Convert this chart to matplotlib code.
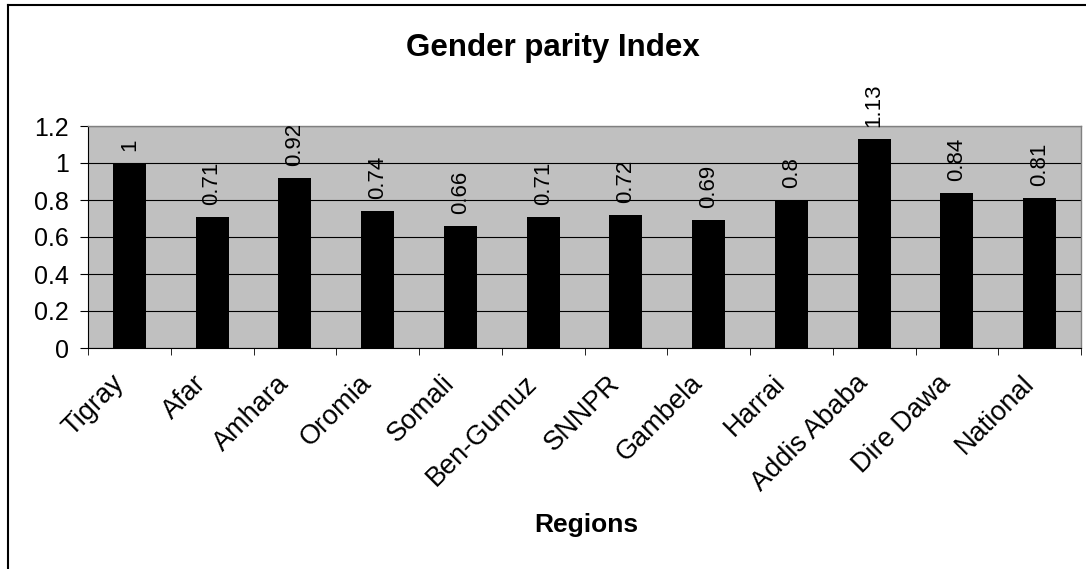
import matplotlib
matplotlib.use("Agg")
import matplotlib.pyplot as plt
from matplotlib.lines import Line2D
from matplotlib.transforms import ScaledTranslation
import numpy as np

regions = ["Tigray", "Afar", "Amhara", "Oromia", "Somali", "Ben-Gumuz", "SNNPR",
           "Gambela", "Harrai", "Addis Ababa", "Dire Dawa", "National"]
gpi = [1.0, 0.71, 0.92, 0.74, 0.66, 0.71, 0.72, 0.69, 0.80, 1.13, 0.84, 0.81]
labels = ["1", "0.71", "0.92", "0.74", "0.66", "0.71", "0.72", "0.69", "0.8", "1.13", "0.84", "0.81"]
yticks = [0, 0.2, 0.4, 0.6, 0.8, 1, 1.2]
yticklabels = ["0", "0.2", "0.4", "0.6", "0.8", "1", "1.2"]

plt.rcParams['font.family'] = ['Liberation Sans', 'DejaVu Sans']

W, H = 1086, 569
fig = plt.figure(figsize=(W/100, H/100), dpi=100)
ax = fig.add_axes([88/W, 1-348/H, (1081-88)/W, (348-126)/H])
ax.set_facecolor("#c0c0c0")

x = np.arange(len(regions))
ax.bar(x, gpi, width=0.4, color="black", zorder=3)
ax.set_xlim(-0.5, len(regions)-0.5)
ax.set_ylim(0, 1.2)
ax.set_yticks(yticks)
ax.set_yticklabels(yticklabels, fontsize=18)
ax.yaxis.grid(True, color="black", linewidth=0.8, zorder=1)
ax.set_axisbelow(True)

ax.set_xticks(x)
ax.set_xticklabels(regions, rotation=45, ha="right", va="top", rotation_mode="anchor", fontsize=19.5)
ax.tick_params(axis="x", length=0, pad=16)
shift = ScaledTranslation(-19/100, 0, fig.dpi_scale_trans)
for t in ax.get_xticklabels():
    t.set_transform(t.get_transform() + shift)
ax.set_xticks(np.arange(len(regions)+1)-0.5, minor=True)
ax.tick_params(axis="x", which="minor", length=5, direction="out", color="black")
ax.tick_params(axis="y", length=6, direction="out", color="black", pad=8)

for s in ["top", "right"]:
    ax.spines[s].set_color("#808080")
    ax.spines[s].set_linewidth(1.0)
ax.spines["left"].set_color("black")
ax.spines["bottom"].set_color("black")

for xi, v, lab in zip(x, gpi, labels):
    ax.text(xi, v + 0.065, lab, rotation=90, ha="center", va="bottom",
            fontsize=16, clip_on=False)

fig.text(553/W, 1-48/H, "Gender parity Index", ha="center", va="center",
         fontsize=22.5, fontweight="bold")
fig.text(586/W, 1-525/H, "Regions", ha="center", va="center",
         fontsize=19, fontweight="bold")

fig.add_artist(Line2D([8/W, 8/W], [0, 1-5/H], transform=fig.transFigure, color="black", linewidth=1.5))
fig.add_artist(Line2D([8/W, 1], [1-5/H, 1-5/H], transform=fig.transFigure, color="black", linewidth=1.5))

fig.savefig("out.png", dpi=100)
